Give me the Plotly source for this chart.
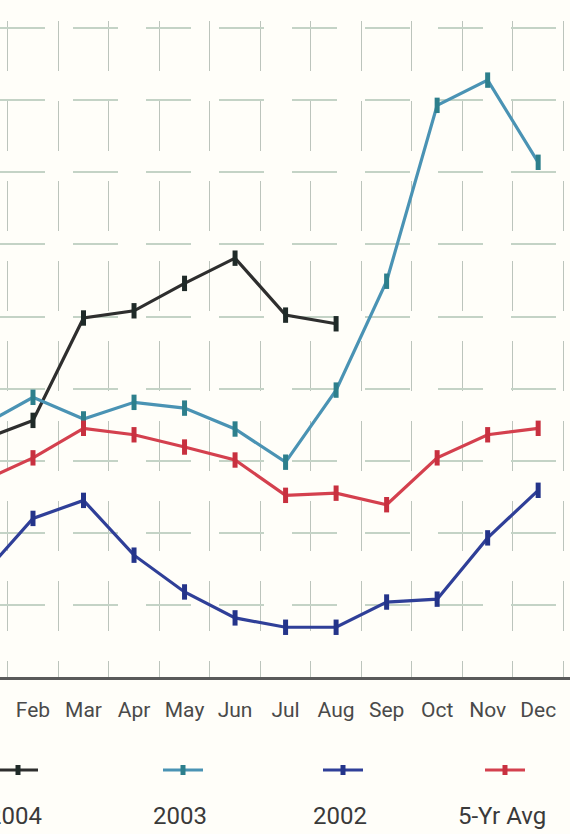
import plotly.graph_objects as go

months = ["Jan", "Feb", "Mar", "Apr", "May", "Jun", "Jul", "Aug", "Sep", "Oct", "Nov", "Dec"]
y2004 = [32.9, 35.6, 49.8, 50.8, 54.6, 58.1, 50.2, 49.0, None, None, None, None]
y2003 = [34.9, 38.8, 35.8, 38.1, 37.3, 34.4, 29.8, 39.8, 54.9, 79.3, 82.8, 71.4]
y2002 = [14.1, 22.0, 24.5, 16.9, 11.8, 8.2, 6.9, 6.9, 10.4, 10.8, 19.3, 25.9]
yavg = [27.2, 30.4, 34.5, 33.6, 31.9, 30.1, 25.2, 25.5, 23.9, 30.4, 33.6, 34.5]

series = [
    ("2004", y2004, "#2e2e2e", "#1f2a28"),
    ("2003", y2003, "#4a93b4", "#2d7f8c"),
    ("2002", y2002, "#2f3f98", "#24348a"),
    ("5-Yr Avg", yavg, "#d4404e", "#c8303f"),
]

FONT = "Roboto, Liberation Sans, sans-serif"

fig = go.Figure()
for name, vals, lc, mc in series:
    fig.add_trace(go.Scatter(
        x=months, y=vals, name=name, mode="lines+markers",
        line=dict(color=lc, width=3.2),
        marker=dict(symbol="line-ns", size=11, line=dict(color=mc, width=5)),
        showlegend=False, connectgaps=False,
    ))

fig.update_layout(
    width=570, height=834,
    margin=dict(l=0, r=0, t=21, b=157),
    paper_bgcolor="#fffef9", plot_bgcolor="#fffef9",
    font=dict(family=FONT, color="#4a4a4a"),
    xaxis=dict(
        type="category", categoryorder="array", categoryarray=months,
        range=[0.347, 11.63], showgrid=True, gridcolor="#bcc4bc", gridwidth=1.2,
        griddash="50px,30px", tickson="boundaries", ticks="",
        showline=True, linecolor="#5a5a5a", linewidth=3,
        tickfont=dict(size=21, color="#4a4a4a", family=FONT), ticklabelstandoff=12,
        zeroline=False, fixedrange=True,
    ),
    yaxis=dict(
        range=[0, 91], dtick=10, showticklabels=False, showgrid=True,
        gridcolor="#c4d3c6", gridwidth=2, griddash="45px,28px",
        zeroline=False, showline=False, fixedrange=True,
    ),
)

# legend: sample line with marker above, label below
legend_x = [18, 183, 343, 505]
shapes = []
annotations = []
for (name, vals, lc, mc), cx in zip(series, legend_x):
    shapes.append(dict(type="line", xref="paper", yref="paper",
                       x0=(cx - 20) / 570, x1=(cx + 20) / 570,
                       y0=(834 - 770 - 157) / 656, y1=(834 - 770 - 157) / 656,
                       line=dict(color=lc, width=3)))
    shapes.append(dict(type="rect", xref="paper", yref="paper",
                       x0=(cx - 2.5) / 570, x1=(cx + 2.5) / 570,
                       y0=(834 - 775 - 157) / 656, y1=(834 - 765 - 157) / 656,
                       line=dict(width=0), fillcolor=mc))
    annotations.append(dict(text=name, xref="paper", yref="paper",
                            x=(cx - 3) / 570, y=(834 - 816 - 157) / 656,
                            showarrow=False, xanchor="center", yanchor="middle",
                            font=dict(size=24, color="#3a3a3a", family=FONT)))
fig.update_layout(shapes=shapes, annotations=annotations)

fig.write_html("out.html", config={"displayModeBar": False},
               post_script="document.body.style.margin='0';document.body.style.padding='0';")
